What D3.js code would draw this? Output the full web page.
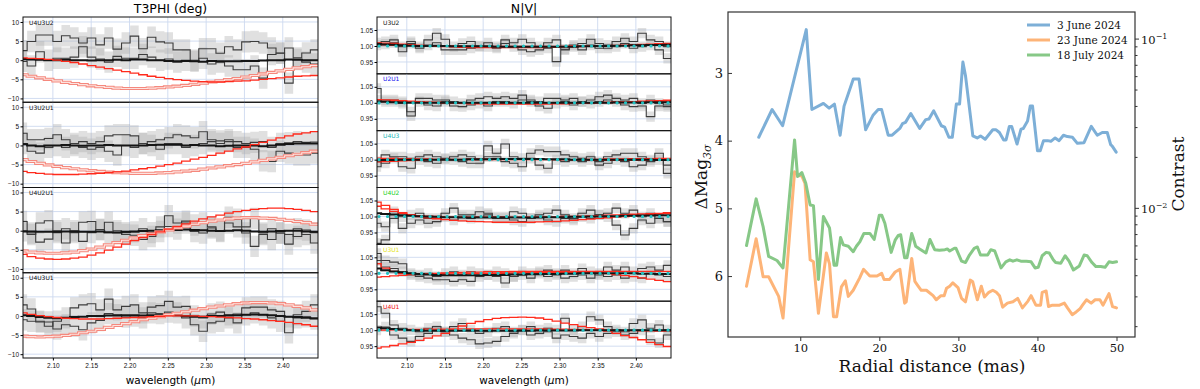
<!DOCTYPE html>
<html>
<head>
<meta charset="utf-8">
<script src="https://cdn.jsdelivr.net/npm/d3@7"></script>
<style>
  body { margin: 0; background: #fff; }
  svg { display: block; font-family: 'DejaVu Sans', sans-serif; }
</style>
</head>
<body>
<div id="chart"></div>
<script>
// ---- wavelength bins (µm) shared by both interferometry panels
const wl = [2.0608, 2.0720, 2.0832, 2.0944, 2.1056, 2.1168, 2.1280, 2.1392, 2.1504, 2.1616, 2.1728, 2.1840,
  2.1952, 2.2064, 2.2176, 2.2288, 2.2400, 2.2512, 2.2624, 2.2736, 2.2848, 2.2960, 2.3072, 2.3184,
  2.3296, 2.3408, 2.3520, 2.3632, 2.3744, 2.3856, 2.3968, 2.4080, 2.4192, 2.4304, 2.4416];
const wlRange = [2.061, 2.446];
const wlTicks = [2.10, 2.15, 2.20, 2.25, 2.30, 2.35, 2.40];

// ---- closure phases (deg)
const triangles = ["U4U3U2", "U3U2U1", "U4U2U1", "U4U3U1"];
const t3Ticks = [-10, -5, 0, 5, 10];
const t3ObsA = [
  [2.5, 4.9, 6.6, 6.6, 4.9, 6.4, 5.8, 4.5, 5.8, 4.0, 5.8, 2.9, 4.5, 6.3, 3.0, 6.0, 4.8, 4.5, 2.7, 2.7, 0.0, 3.0, 3.0, 1.8, 3.5, 2.7, 4.8, 4.9, 4.5, 3.2, 1.9, 3.2, 0.6, 1.9, 2.7],
  [3.2, 1.5, 1.5, 1.8, 2.8, 1.5, 0.5, 1.0, 0.5, 1.0, 2.5, 2.8, 2.8, 2.5, 0.5, 1.0, 1.5, 2.0, 2.8, 2.5, 2.0, 3.6, 1.5, 1.2, 1.5, 1.0, 0.5, 0.8, 1.0, -0.5, 0.5, 0.7, 1.0, 0.8, 0.9],
  [2.4, -1.0, 2.0, 2.6, -0.5, 0.5, -0.5, 2.2, 2.4, 0.3, 2.2, 0.0, -0.5, -0.3, 0.5, -0.5, 1.0, 3.9, 2.0, 2.5, 1.5, 2.0, 1.0, 0.0, 3.5, 3.0, 1.0, 3.2, -0.6, 0.5, -0.6, -3.5, 0.5, -1.0, -3.2],
  [2.9, 1.8, -1.4, -2.7, -1.4, -0.5, 2.1, 2.9, 3.2, 1.6, 4.4, 1.6, 2.5, 2.9, 0.8, 2.3, 2.7, 3.8, 2.3, 2.5, 0.0, -0.5, 0.5, 1.0, 0.3, 0.5, 2.1, 2.3, 2.3, 1.6, 1.2, -4.4, 0.3, 1.2, 2.9]
];
const t3ObsB = [
  [-0.3, -1.5, 2.2, 0.0, 0.5, 0.5, 0.8, 3.5, 0.8, 0.3, -0.5, 1.0, 0.5, 0.5, 1.5, 0.8, 0.0, 0.3, -0.5, 0.0, -0.3, 0.5, -1.0, -0.5, -1.5, -2.5, -2.5, -1.5, -4.7, 1.5, 1.8, -6.0, 0.2, -0.5, -1.0],
  [0.5, -1.5, -2.0, -0.5, 0.0, -0.5, 0.0, -0.5, -1.0, -0.5, -1.5, -2.5, 0.0, -0.5, 0.5, 0.0, -1.0, 0.5, 0.5, -0.5, 0.0, 0.5, 1.0, 0.5, 1.0, -0.5, -0.5, -1.0, -4.0, -4.2, -1.5, -2.0, -2.5, -2.5, -2.0],
  [0.0, -0.6, -3.0, -2.2, 0.0, -3.2, 0.0, -2.8, -0.5, 0.3, -0.5, -0.5, -1.0, -1.2, -2.3, -1.5, -0.2, 1.1, 0.4, 2.0, -0.2, -0.6, 0.7, -0.2, 2.0, 1.0, -0.6, -4.1, -1.0, -2.3, -0.6, -1.0, -1.5, 0.2, -0.5],
  [-1.0, -1.4, -1.6, -1.6, -3.4, -2.3, -2.7, -3.6, -1.8, -1.2, 0.6, 0.3, -0.3, 0.0, -0.5, 0.8, 0.6, 1.0, 0.8, -0.5, -2.3, -4.0, -1.8, -1.4, -0.5, -1.8, 0.3, 0.8, 0.3, -0.5, -1.4, -0.2, -0.5, -0.2, -0.8]
];
const t3Err = [2.8, 2.8, 2.8, 2.8];
const t3Fit = [
  [0.3, 0.2, 0.1, 0.0, 0.0, 0.1, 0.0, 0.0, -0.1, 0.0, 0.0, 0.1, 0.0, 0.2, 0.2, 0.0, 0.0, -0.2, -0.3, -0.2, -0.3, -0.4, -0.2, -0.3, -0.3, -0.3, -0.2, -0.2, -0.1, 0.0, 0.0, 0.2, 0.1, 0.0, 0.0],
  [0.3, 0.0, -0.2, 0.0, 0.0, 0.1, 0.0, -0.1, 0.0, 0.0, 0.1, 0.0, 0.0, 0.0, 0.0, 0.1, 0.2, 0.2, 0.2, 0.0, 0.1, 0.0, 0.0, -0.2, -0.1, 0.0, 0.0, 0.0, -0.2, 0.0, 0.2, 0.4, 0.5, 0.5, 0.5],
  [-0.2, -0.2, -0.3, -0.3, -0.3, -0.2, -0.2, -0.3, -0.3, -0.2, -0.4, -0.5, -0.3, -0.2, -0.1, 0.0, 0.1, 0.2, 0.2, 0.3, 0.2, 0.1, 0.0, -0.1, 0.0, 0.1, 0.0, -0.2, -0.3, -0.2, -0.1, 0.0, 0.0, -0.2, -0.3],
  [0.2, 0.0, -0.3, -0.5, -0.6, -0.5, -0.3, -0.2, 0.0, 0.0, 0.1, 0.1, 0.2, 0.2, 0.1, 0.2, 0.2, 0.3, 0.2, 0.0, -0.2, -0.2, 0.0, 0.0, 0.1, 0.2, 0.3, 0.4, 0.3, 0.2, 0.0, -0.2, -0.3, -0.5, -0.6]
];
const t3ModelA = [
  [0.6, 0.5, 0.4, 0.2, 0.0, -0.3, -0.6, -1.0, -1.4, -1.8, -2.2, -2.6, -3.0, -3.4, -3.8, -4.2, -4.5, -4.8, -5.1, -5.3, -5.5, -5.6, -5.7, -5.7, -5.6, -5.5, -5.4, -5.2, -5.0, -4.8, -4.6, -4.4, -4.2, -4.1, -4.0],
  [-6.8, -7.1, -7.3, -7.5, -7.6, -7.6, -7.6, -7.5, -7.4, -7.3, -7.1, -6.9, -6.7, -6.4, -6.1, -5.8, -5.4, -5.0, -4.6, -4.1, -3.6, -3.1, -2.6, -2.0, -1.5, -0.9, -0.4, 0.2, 0.8, 1.4, 2.0, 2.5, 3.0, 3.3, 3.6],
  [-6.2, -6.8, -7.2, -7.4, -7.5, -7.4, -7.2, -6.9, -6.4, -5.8, -5.1, -4.3, -3.5, -2.6, -1.8, -1.0, -0.3, 0.4, 1.1, 1.8, 2.5, 3.1, 3.6, 4.1, 4.6, 5.0, 5.3, 5.6, 5.8, 5.9, 5.9, 5.8, 5.6, 5.3, 5.0],
  [0.8, 0.4, 0.1, -0.2, -0.4, -0.6, -0.7, -0.8, -0.8, -0.8, -0.7, -0.6, -0.5, -0.4, -0.3, -0.2, -0.1, 0.0, 0.0, 0.0, 0.0, -0.1, -0.2, -0.3, -0.4, -0.5, -0.7, -0.8, -1.0, -1.2, -1.4, -1.7, -2.0, -2.3, -2.7]
];
const t3ModelB = [
  [-3.8, -4.2, -4.6, -5.0, -5.4, -5.8, -6.1, -6.4, -6.7, -6.9, -7.1, -7.3, -7.4, -7.4, -7.4, -7.3, -7.2, -7.0, -6.8, -6.6, -6.3, -6.0, -5.7, -5.4, -5.1, -4.8, -4.4, -4.0, -3.6, -3.2, -2.8, -2.4, -2.0, -1.7, -1.4],
  [-3.7, -4.2, -4.7, -5.1, -5.5, -5.8, -6.1, -6.4, -6.6, -6.8, -7.0, -7.1, -7.2, -7.3, -7.3, -7.3, -7.2, -7.1, -6.9, -6.7, -6.5, -6.2, -5.9, -5.6, -5.3, -5.0, -4.7, -4.3, -3.9, -3.5, -3.1, -2.7, -2.3, -1.9, -1.5],
  [-5.3, -5.6, -5.8, -5.9, -5.9, -5.8, -5.6, -5.2, -4.8, -4.3, -3.7, -3.1, -2.5, -1.9, -1.3, -0.8, -0.3, 0.2, 0.7, 1.2, 1.7, 2.1, 2.5, 2.8, 3.1, 3.3, 3.4, 3.4, 3.3, 3.2, 3.0, 2.7, 2.4, 2.1, 1.7],
  [-5.3, -5.4, -5.5, -5.4, -5.3, -5.1, -4.8, -4.4, -4.0, -3.5, -3.0, -2.5, -2.0, -1.5, -1.0, -0.6, -0.2, 0.3, 0.7, 1.1, 1.5, 1.9, 2.3, 2.6, 2.9, 3.2, 3.4, 3.5, 3.5, 3.4, 3.2, 2.9, 2.5, 2.1, 1.6]
];

// ---- normalised visibility amplitudes
const baselines = ["U3U2", "U2U1", "U4U3", "U4U2", "U3U1", "U4U1"];
const baselineColors = ["#111111", "#1010f0", "#19b5b5", "#22d022", "#e4e41a", "#f01010"];
const nvTicks = [0.95, 1.00, 1.05];
const nvRef = 1.0;
const nvObsA = [
  [1.010, 1.014, 1.019, 0.982, 1.014, 0.993, 1.019, 1.040, 1.021, 0.998, 1.008, 1.014, 1.000, 1.010, 0.998, 1.019, 1.010, 1.021, 1.010, 0.998, 1.010, 1.019, 0.990, 1.003, 1.008, 1.021, 1.008, 0.993, 1.014, 1.024, 1.014, 1.040, 1.019, 1.014, 0.998],
  [1.045, 1.009, 1.009, 1.004, 0.972, 1.014, 1.014, 1.009, 1.009, 1.004, 0.998, 1.009, 1.014, 1.019, 1.014, 1.019, 1.014, 1.024, 1.009, 1.004, 1.014, 1.014, 1.009, 1.014, 1.004, 1.009, 1.019, 1.024, 1.014, 1.009, 1.014, 0.998, 1.009, 0.998, 0.993],
  [0.978, 1.015, 1.009, 1.009, 1.004, 1.009, 1.015, 1.009, 1.001, 1.009, 1.015, 1.009, 0.999, 1.043, 1.020, 1.049, 1.009, 1.004, 1.020, 1.030, 1.025, 1.025, 1.015, 1.009, 1.004, 1.009, 0.994, 1.009, 1.015, 1.020, 1.020, 1.009, 0.999, 1.020, 0.983],
  [0.916, 0.927, 1.015, 0.963, 1.005, 1.010, 0.994, 0.994, 1.010, 1.026, 1.005, 1.005, 1.015, 1.010, 0.999, 0.994, 1.015, 1.010, 0.994, 1.005, 1.010, 1.020, 1.005, 0.994, 1.010, 1.020, 1.005, 1.010, 1.026, 1.010, 1.020, 0.999, 1.010, 0.994, 0.984],
  [1.062, 1.040, 1.035, 1.030, 1.000, 0.995, 1.000, 0.990, 1.000, 1.005, 0.995, 1.005, 1.000, 0.995, 1.005, 1.000, 0.990, 1.005, 1.000, 1.005, 1.010, 1.000, 1.010, 1.000, 1.015, 1.005, 0.995, 1.020, 1.010, 1.020, 1.005, 1.015, 1.020, 1.010, 1.025],
  [1.073, 1.053, 1.016, 1.006, 1.001, 0.995, 1.006, 1.011, 0.995, 1.011, 1.021, 1.001, 0.990, 0.995, 1.006, 1.011, 0.995, 1.001, 1.011, 1.001, 1.006, 1.001, 1.037, 1.001, 1.011, 1.042, 1.032, 1.011, 1.001, 0.995, 1.021, 1.032, 1.006, 1.016, 1.001]
];
const nvObsB = [
  [1.003, 1.006, 1.010, 0.998, 1.008, 0.998, 1.003, 1.010, 0.988, 0.988, 0.988, 0.993, 0.998, 0.998, 0.993, 1.008, 0.998, 0.988, 0.982, 0.988, 0.993, 0.951, 0.988, 0.998, 0.988, 1.003, 0.993, 1.003, 0.998, 1.008, 0.993, 0.998, 1.003, 0.988, 0.961],
  [1.009, 1.004, 1.004, 0.998, 0.959, 1.004, 0.993, 0.990, 1.004, 0.990, 0.988, 0.993, 0.998, 0.990, 1.004, 1.004, 0.998, 1.009, 1.004, 0.990, 0.983, 0.998, 1.004, 0.993, 1.004, 0.998, 1.004, 1.009, 1.004, 0.993, 0.988, 0.990, 0.957, 0.990, 0.988],
  [0.994, 0.989, 1.004, 0.978, 0.973, 0.999, 0.994, 0.989, 1.004, 0.999, 0.994, 0.989, 0.989, 1.009, 1.009, 0.994, 0.989, 0.978, 1.004, 0.983, 0.973, 0.999, 0.994, 0.999, 0.994, 0.999, 0.983, 0.989, 0.999, 0.994, 0.978, 0.983, 0.994, 0.999, 0.957],
  [0.979, 0.968, 0.994, 0.999, 0.979, 0.989, 0.979, 0.984, 0.999, 0.989, 0.999, 0.994, 0.999, 1.005, 0.994, 0.999, 0.989, 0.984, 0.994, 0.999, 0.989, 0.984, 0.994, 0.989, 0.999, 0.994, 1.005, 0.999, 0.973, 0.942, 0.963, 0.989, 0.979, 0.994, 0.984],
  [1.040, 1.020, 1.015, 1.005, 0.995, 0.990, 0.985, 0.980, 0.980, 0.975, 0.980, 0.975, 0.990, 0.995, 0.990, 0.970, 0.990, 0.995, 0.985, 1.000, 0.990, 0.995, 0.985, 0.990, 0.995, 0.985, 1.000, 0.990, 0.995, 0.985, 0.990, 0.985, 1.000, 0.995, 0.990],
  [1.000, 1.010, 0.985, 0.975, 0.965, 0.980, 0.990, 1.000, 0.995, 0.985, 0.975, 0.970, 0.957, 0.960, 0.965, 0.980, 0.990, 1.000, 0.985, 0.990, 0.995, 0.975, 0.985, 0.980, 0.975, 0.990, 0.980, 0.990, 0.995, 0.985, 0.990, 1.000, 0.970, 0.960, 0.985]
];
const nvErr = [0.016, 0.016, 0.016, 0.016, 0.016, 0.016];
const nvFit = [
  [1.006, 1.005, 1.004, 1.002, 1.001, 1.000, 1.000, 1.001, 1.000, 0.999, 0.999, 0.999, 0.999, 0.999, 0.998, 0.998, 0.998, 0.998, 0.998, 0.998, 0.998, 0.998, 0.998, 0.998, 0.999, 0.999, 1.000, 1.000, 1.001, 1.001, 1.002, 1.002, 1.003, 1.003, 1.004],
  [1.004, 1.003, 1.002, 1.001, 1.000, 1.000, 1.000, 1.000, 1.000, 1.000, 1.000, 1.000, 1.000, 1.000, 1.000, 1.000, 1.000, 1.000, 1.000, 1.000, 1.000, 1.000, 1.000, 1.000, 1.000, 1.000, 1.000, 1.000, 1.001, 1.001, 1.001, 1.001, 1.002, 1.002, 1.002],
  [0.998, 0.999, 0.999, 1.000, 1.000, 1.000, 1.000, 1.000, 1.000, 1.000, 1.000, 1.001, 1.001, 1.001, 1.002, 1.002, 1.002, 1.002, 1.002, 1.002, 1.001, 1.001, 1.001, 1.000, 1.000, 1.000, 1.000, 1.000, 1.000, 1.000, 1.000, 1.000, 1.000, 0.999, 0.999],
  [1.010, 1.008, 1.006, 1.004, 1.002, 1.001, 1.000, 0.999, 0.998, 0.998, 0.997, 0.997, 0.997, 0.997, 0.997, 0.997, 0.997, 0.997, 0.997, 0.997, 0.998, 0.998, 0.998, 0.999, 0.999, 1.000, 1.000, 1.001, 1.001, 1.002, 1.002, 1.003, 1.003, 1.004, 1.004],
  [1.015, 1.010, 1.006, 1.003, 1.000, 0.998, 0.996, 0.995, 0.994, 0.994, 0.994, 0.994, 0.994, 0.995, 0.995, 0.995, 0.996, 0.996, 0.997, 0.997, 0.998, 0.998, 0.999, 0.999, 1.000, 1.000, 1.000, 1.000, 1.000, 1.000, 1.000, 0.999, 0.999, 0.998, 0.998],
  [1.008, 1.006, 1.004, 1.002, 1.000, 0.999, 0.998, 0.998, 0.998, 0.998, 0.998, 0.998, 0.998, 0.998, 0.998, 0.998, 0.998, 0.998, 0.998, 0.999, 0.999, 0.999, 0.999, 0.999, 1.000, 1.000, 1.000, 1.000, 1.000, 1.000, 1.000, 1.000, 1.000, 1.000, 1.000]
];
const nvModelA = [
  [1.010, 1.009, 1.008, 1.006, 1.004, 1.002, 1.000, 0.999, 0.998, 0.997, 0.996, 0.995, 0.995, 0.995, 0.995, 0.995, 0.995, 0.995, 0.995, 0.995, 0.996, 0.996, 0.997, 0.997, 0.998, 0.999, 1.000, 1.001, 1.002, 1.003, 1.004, 1.005, 1.006, 1.007, 1.008],
  [1.010, 1.009, 1.008, 1.007, 1.005, 1.004, 1.002, 1.001, 1.000, 0.999, 0.998, 0.997, 0.997, 0.996, 0.996, 0.996, 0.996, 0.996, 0.996, 0.996, 0.996, 0.997, 0.997, 0.998, 0.998, 0.999, 1.000, 1.001, 1.002, 1.003, 1.004, 1.005, 1.006, 1.007, 1.008],
  [0.993, 0.994, 0.995, 0.996, 0.997, 0.998, 0.999, 1.000, 1.000, 1.001, 1.001, 1.002, 1.002, 1.002, 1.002, 1.002, 1.002, 1.002, 1.002, 1.001, 1.001, 1.001, 1.000, 1.000, 0.999, 0.999, 0.998, 0.998, 0.998, 0.998, 0.998, 0.999, 0.999, 1.000, 1.001],
  [1.045, 1.035, 1.022, 1.012, 1.005, 1.000, 0.996, 0.993, 0.990, 0.988, 0.986, 0.985, 0.984, 0.983, 0.982, 0.982, 0.982, 0.982, 0.982, 0.983, 0.984, 0.985, 0.986, 0.988, 0.990, 0.992, 0.994, 0.996, 0.998, 1.000, 1.002, 1.004, 1.006, 1.008, 1.010],
  [1.030, 1.016, 1.006, 1.000, 0.998, 0.997, 0.997, 0.997, 0.997, 0.998, 0.998, 0.999, 0.999, 1.000, 1.000, 1.001, 1.001, 1.002, 1.002, 1.003, 1.003, 1.003, 1.003, 1.003, 1.003, 1.002, 1.001, 0.999, 0.996, 0.993, 0.990, 0.986, 0.982, 0.978, 0.974],
  [0.944, 0.948, 0.952, 0.957, 0.962, 0.968, 0.975, 0.982, 0.990, 1.001, 1.013, 1.021, 1.027, 1.033, 1.037, 1.039, 1.040, 1.041, 1.040, 1.038, 1.034, 1.028, 1.022, 1.017, 1.012, 1.008, 1.004, 0.997, 0.990, 0.983, 0.977, 0.970, 0.962, 0.955, 0.949]
];
const nvModelB = [
  [1.004, 1.004, 1.003, 1.003, 1.002, 1.002, 1.001, 1.001, 1.000, 1.000, 1.000, 0.999, 0.999, 0.999, 0.999, 0.999, 0.999, 0.999, 0.999, 0.999, 0.999, 0.999, 0.999, 1.000, 1.000, 1.000, 1.000, 1.001, 1.001, 1.001, 1.002, 1.002, 1.002, 1.003, 1.003],
  [1.004, 1.004, 1.003, 1.003, 1.002, 1.002, 1.001, 1.001, 1.000, 1.000, 1.000, 0.999, 0.999, 0.999, 0.999, 0.999, 0.999, 0.999, 0.999, 0.999, 0.999, 0.999, 0.999, 1.000, 1.000, 1.000, 1.000, 1.001, 1.001, 1.001, 1.002, 1.002, 1.002, 1.003, 1.003],
  [1.005, 1.004, 1.004, 1.003, 1.003, 1.002, 1.002, 1.001, 1.001, 1.000, 1.000, 1.000, 1.000, 1.000, 1.000, 1.000, 1.000, 1.000, 1.000, 1.000, 1.000, 1.000, 1.000, 1.000, 1.001, 1.001, 1.001, 1.002, 1.002, 1.002, 1.003, 1.003, 1.003, 1.004, 1.004],
  [1.032, 1.024, 1.016, 1.010, 1.006, 1.003, 1.001, 1.000, 0.999, 0.998, 0.998, 0.998, 0.998, 0.998, 0.998, 0.998, 0.998, 0.998, 0.998, 0.998, 0.999, 0.999, 1.000, 1.000, 1.001, 1.002, 1.003, 1.004, 1.005, 1.006, 1.007, 1.008, 1.009, 1.010, 1.012],
  [0.988, 0.990, 0.992, 0.994, 0.996, 0.998, 0.999, 1.000, 1.001, 1.002, 1.003, 1.004, 1.004, 1.005, 1.005, 1.005, 1.006, 1.006, 1.006, 1.006, 1.006, 1.006, 1.006, 1.006, 1.006, 1.006, 1.006, 1.006, 1.006, 1.006, 1.006, 1.006, 1.006, 1.006, 1.006],
  [1.000, 1.000, 1.001, 1.001, 1.002, 1.002, 1.003, 1.003, 1.003, 1.004, 1.004, 1.004, 1.004, 1.004, 1.004, 1.004, 1.004, 1.004, 1.004, 1.004, 1.003, 1.003, 1.003, 1.002, 1.002, 1.001, 1.001, 1.000, 1.000, 0.999, 0.999, 0.998, 0.998, 0.997, 0.997]
];

// ---- detection limits: [radial distance (mas), ΔMag 3σ]
const epochs = ["3 June 2024", "23 June 2024", "18 July 2024"];
const limJun03 = [[4.75, 3.95], [6.44, 3.54], [7.77, 3.78], [10.76, 2.36], [11.47, 3.54], [12.93, 3.45], [13.65, 3.52], [14.32, 3.46],
  [15.04, 3.92], [15.54, 3.49], [16.71, 3.09], [17.43, 3.09], [18.27, 3.84], [19.23, 3.62], [19.86, 3.54], [20.29, 3.54],
  [21.12, 3.92], [21.62, 3.92], [22.59, 3.82], [22.93, 3.75], [23.31, 3.73], [23.98, 3.60], [25.11, 3.82], [25.87, 3.69],
  [26.28, 3.68], [26.88, 3.56], [27.85, 3.78], [28.26, 3.80], [28.80, 3.95], [29.23, 3.95], [29.74, 3.46], [30.15, 3.46],
  [30.57, 2.84], [30.91, 3.05], [31.83, 3.93], [32.38, 3.96], [32.80, 3.93], [33.39, 3.98], [34.35, 3.84], [34.77, 3.84],
  [35.19, 3.88], [35.73, 3.99], [36.03, 3.99], [36.45, 3.79], [36.74, 3.79], [37.42, 4.05], [37.92, 3.83], [38.21, 3.82],
  [38.75, 3.71], [39.09, 3.49], [39.38, 3.49], [40.01, 4.15], [40.35, 4.15], [40.77, 4.00], [41.27, 4.00], [41.70, 4.01],
  [42.24, 3.96], [42.74, 4.00], [43.29, 3.92], [43.79, 3.94], [44.42, 3.95], [45.05, 4.04], [45.89, 4.03], [46.81, 3.79],
  [47.57, 3.92], [48.20, 3.88], [48.83, 3.88], [49.26, 4.06], [49.46, 4.08], [49.96, 4.17]];
const limJun23 = [[3.2, 6.15], [4.42, 5.45], [5.3, 6.01], [6.0, 6.01], [7.27, 6.30], [7.82, 6.62], [9.28, 4.46], [9.8, 4.52],
  [10.2, 4.52], [10.6, 4.63], [11.25, 5.76], [11.67, 5.79], [12.3, 6.55], [13.3, 5.66], [13.7, 5.82], [14.2, 6.60],
  [14.6, 6.60], [15.2, 6.16], [15.7, 6.07], [16.08, 6.30], [16.7, 6.21], [17.5, 6.03], [18.0, 5.90], [18.8, 6.00],
  [19.7, 6.00], [20.3, 5.96], [20.6, 6.05], [21.3, 6.05], [22.0, 5.94], [22.6, 5.90], [23.2, 6.40], [23.4, 6.38],
  [24.1, 5.74], [24.5, 6.08], [24.8, 6.13], [25.3, 6.21], [25.95, 6.21], [26.8, 6.29], [27.2, 6.35], [27.8, 6.29],
  [28.2, 6.29], [28.5, 6.18], [28.9, 6.15], [29.3, 6.10], [29.95, 6.17], [30.4, 6.33], [30.9, 6.38], [31.5, 6.06],
  [31.8, 6.08], [32.4, 6.35], [32.9, 6.15], [33.3, 6.31], [33.85, 6.24], [34.35, 6.21], [34.8, 6.24], [35.2, 6.29],
  [35.6, 6.46], [36.2, 6.40], [36.9, 6.38], [37.5, 6.33], [38.1, 6.47], [38.8, 6.37], [39.2, 6.29], [39.8, 6.43],
  [40.4, 6.43], [40.6, 6.24], [41.1, 6.22], [41.4, 6.45], [41.9, 6.43], [42.8, 6.43], [43.4, 6.40], [43.8, 6.47],
  [44.4, 6.57], [44.9, 6.53], [45.4, 6.48], [45.7, 6.43], [46.2, 6.35], [46.8, 6.40], [47.3, 6.35], [47.9, 6.35],
  [48.3, 6.43], [49.05, 6.26], [49.5, 6.45], [50.0, 6.47]];
const limJul18 = [[3.2, 5.55], [4.42, 4.86], [5.3, 5.27], [6.0, 5.71], [7.06, 5.77], [7.82, 5.88], [9.28, 3.99], [9.66, 4.53],
  [10.2, 4.47], [10.7, 4.63], [11.25, 4.95], [11.67, 4.96], [12.3, 6.05], [12.93, 5.12], [13.7, 5.29], [14.28, 5.84],
  [14.6, 5.84], [15.1, 5.43], [15.45, 5.54], [16.08, 5.56], [16.7, 5.64], [17.1, 5.56], [17.55, 5.49], [18.05, 5.37],
  [18.8, 5.37], [19.35, 5.46], [20.0, 5.10], [20.3, 5.10], [20.7, 5.22], [21.5, 5.65], [22.0, 5.47], [22.4, 5.40],
  [22.7, 5.39], [23.2, 5.73], [23.5, 5.73], [24.1, 5.37], [24.3, 5.44], [24.6, 5.56], [25.1, 5.60], [25.9, 5.66],
  [26.4, 5.46], [27.0, 5.61], [27.6, 5.62], [28.3, 5.61], [28.6, 5.60], [28.9, 5.63], [29.5, 5.59], [29.7, 5.59],
  [30.4, 5.78], [30.9, 5.80], [31.4, 5.69], [32.0, 5.59], [32.4, 5.57], [32.8, 5.69], [33.3, 5.69], [33.7, 5.69],
  [34.1, 5.61], [34.6, 5.63], [35.4, 5.88], [36.0, 5.79], [36.5, 5.76], [36.9, 5.78], [37.4, 5.76], [37.9, 5.78],
  [38.6, 5.78], [39.2, 5.79], [39.7, 5.88], [40.1, 5.87], [40.6, 5.70], [41.1, 5.65], [41.5, 5.66], [42.0, 5.76],
  [42.3, 5.80], [42.95, 5.81], [43.5, 5.70], [44.0, 5.78], [44.55, 5.91], [45.3, 5.85], [45.9, 5.69], [46.3, 5.70],
  [46.9, 5.80], [47.4, 5.86], [48.0, 5.86], [48.55, 5.87], [49.05, 5.79], [49.5, 5.80], [50.0, 5.79]];
const sepTicks = [10, 20, 30, 40, 50];
const magTicks = [3, 4, 5, 6];
const epochColors = ["#7dafd7", "#fdb478", "#87c887"];

// ---------------------------------------------------------------
const W = 1200, H = 389;
const svg = d3.select("#chart").append("svg").attr("width", W).attr("height", H);
const defs = svg.append("defs");
const gridColor = "#cdd9ef";
const halfBin = (wl[1] - wl[0]) / 2;

// turn per-bin values into a staircase
const steps = vals => vals.flatMap((v, i) => [[wl[i] - halfBin, v], [wl[i] + halfBin, v]]);

function stackPanel(cfg) {
  const x = d3.scaleLinear().domain(wlRange).range([cfg.left, cfg.right]);
  const rowH = (cfg.bottom - cfg.top) / cfg.names.length;

  cfg.names.forEach((name, i) => {
    const top = cfg.top + i * rowH;
    const y = d3.scaleLinear().domain(cfg.yDomain).range([top + rowH, top]);
    const g = svg.append("g");
    const clipId = `${cfg.id}-clip-${i}`;
    defs.append("clipPath").attr("id", clipId).append("rect")
      .attr("x", cfg.left).attr("y", top)
      .attr("width", cfg.right - cfg.left).attr("height", rowH);

    // grid
    g.append("g").selectAll("line").data(wlTicks).join("line")
      .attr("x1", d => x(d)).attr("x2", d => x(d))
      .attr("y1", top).attr("y2", top + rowH)
      .attr("stroke", gridColor).attr("stroke-width", 0.9);
    g.append("g").selectAll("line").data(cfg.yTicks).join("line")
      .attr("x1", cfg.left).attr("x2", cfg.right)
      .attr("y1", d => y(d)).attr("y2", d => y(d))
      .attr("stroke", gridColor).attr("stroke-width", 0.9);

    const plot = g.append("g").attr("clip-path", `url(#${clipId})`);
    const line = d3.line().x(d => x(d[0])).y(d => y(d[1]));
    const band = d3.area().x(d => x(d[0]))
      .y0(d => y(d[1] - cfg.err[i])).y1(d => y(d[1] + cfg.err[i]));

    const obs = [cfg.obsA[i], cfg.obsB[i]];
    obs.forEach(s => plot.append("path").attr("d", band(steps(s)))
      .attr("fill", "#a8a8a8").attr("fill-opacity", 0.36));
    obs.forEach(s => plot.append("path").attr("d", line(steps(s)))
      .attr("fill", "none").attr("stroke", "#3c3c3c").attr("stroke-width", 1.1));

    const drawFit = () => plot.append("path").attr("d", line(steps(cfg.fit[i])))
      .attr("fill", "none").attr("stroke", "#151515").attr("stroke-width", 2);
    const drawModels = () => cfg.models.forEach(m => {
      const d = line(steps(m.data[i]));
      if (m.double) {
        plot.append("path").attr("d", d).attr("fill", "none")
          .attr("stroke", "#f5887d").attr("stroke-width", 3.2);
        plot.append("path").attr("d", d).attr("fill", "none")
          .attr("stroke", "#fde3df").attr("stroke-width", 1.1);
      } else {
        plot.append("path").attr("d", d).attr("fill", "none")
          .attr("stroke", "#ff2a1c").attr("stroke-width", 1.3);
      }
    });
    if (cfg.fitOnTop) { drawModels(); drawFit(); } else { drawFit(); drawModels(); }

    if (cfg.ref !== undefined) {
      plot.append("line")
        .attr("x1", x(wlRange[0]) + 2).attr("x2", x(wlRange[1]))
        .attr("y1", y(cfg.ref)).attr("y2", y(cfg.ref))
        .attr("stroke", "#22c2c2").attr("stroke-width", 3.2)
        .attr("stroke-linecap", "round").attr("stroke-dasharray", "0.1 8.4");
    }

    // frame
    g.append("rect").attr("x", cfg.left).attr("y", top)
      .attr("width", cfg.right - cfg.left).attr("height", rowH)
      .attr("fill", "none").attr("stroke", "#111").attr("stroke-width", 1);

    // y axis
    const ya = g.append("g").attr("transform", `translate(${cfg.left},0)`)
      .call(d3.axisLeft(y).tickValues(cfg.yTicks).tickFormat(cfg.fmt).tickSize(2.5).tickPadding(1.5));
    ya.select(".domain").remove();
    ya.selectAll("text").style("font-size", "6.5px").attr("fill", "#111");

    g.append("text").attr("x", cfg.left + 6).attr("y", top + 7.5)
      .style("font-size", "6px").attr("fill", cfg.nameColors[i]).text(name);

    if (i === cfg.names.length - 1) {
      const xa = g.append("g").attr("transform", `translate(0,${top + rowH})`)
        .call(d3.axisBottom(x).tickValues(wlTicks).tickFormat(d3.format(".2f")).tickSize(2.5).tickPadding(2.5));
      xa.select(".domain").remove();
      xa.selectAll("text").style("font-size", "6.5px").attr("fill", "#111");
    }
  });

  const mid = (cfg.left + cfg.right) / 2;
  svg.append("text").attr("x", mid).attr("y", 12.5).attr("text-anchor", "middle")
    .style("font-size", "12.5px").text(cfg.title);
  const xl = svg.append("text").attr("x", mid).attr("y", 384).attr("text-anchor", "middle")
    .style("font-size", "10.5px");
  xl.append("tspan").text("wavelength (");
  xl.append("tspan").style("font-style", "italic").text("μ");
  xl.append("tspan").text("m)");
}

stackPanel({
  id: "t3", title: "T3PHI (deg)", left: 23, right: 318, top: 17, bottom: 358,
  names: triangles, nameColors: triangles.map(() => "#111"),
  yDomain: [-11, 11.3], yTicks: t3Ticks, fmt: d3.format("d"),
  obsA: t3ObsA, obsB: t3ObsB, err: t3Err, fit: t3Fit, fitOnTop: false,
  models: [{ data: t3ModelB, double: true }, { data: t3ModelA, double: false }]
});

stackPanel({
  id: "nv", title: "N|V|", left: 377, right: 671, top: 17, bottom: 358,
  names: baselines, nameColors: baselineColors,
  yDomain: [0.913, 1.0906], yTicks: nvTicks, fmt: d3.format(".2f"),
  obsA: nvObsA, obsB: nvObsB, err: nvErr, fit: nvFit, fitOnTop: true, ref: nvRef,
  models: [{ data: nvModelB, double: false }, { data: nvModelA, double: false }]
});

// ---- detection limit panel
(function () {
  const serif = "'DejaVu Serif', serif";
  const L = 728, R = 1135, T = 12, B = 337;
  const x = d3.scaleLinear().domain([0.86, 52.34]).range([L, R]);
  const y = d3.scaleLinear().domain([2.1, 6.9]).range([T, B]);
  const contrast = d3.scaleLog()
    .domain(y.domain().map(m => Math.pow(10, -m / 2.5))).range([T, B]);

  const g = svg.append("g").style("font-family", serif);
  const line = d3.line().x(d => x(d[0])).y(d => y(d[1]));
  [limJun03, limJun23, limJul18].forEach((s, i) => {
    g.append("path").attr("d", line(s)).attr("fill", "none")
      .attr("stroke", epochColors[i]).attr("stroke-width", 3)
      .attr("stroke-linejoin", "round").attr("stroke-linecap", "round");
  });

  g.append("rect").attr("x", L).attr("y", T).attr("width", R - L).attr("height", B - T)
    .attr("fill", "none").attr("stroke", "#333").attr("stroke-width", 1.2);

  const xa = g.append("g").attr("transform", `translate(0,${B})`)
    .call(d3.axisBottom(x).tickValues(sepTicks).tickSize(4).tickPadding(3));
  xa.select(".domain").remove();
  xa.selectAll("text").style("font-size", "11.5px").style("font-family", serif).attr("fill", "#111");
  xa.selectAll("line").attr("stroke", "#333");

  const ya = g.append("g").attr("transform", `translate(${L},0)`)
    .call(d3.axisLeft(y).tickValues(magTicks).tickFormat(d3.format("d")).tickSize(-4).tickPadding(5));
  ya.select(".domain").remove();
  ya.selectAll("text").style("font-size", "13px").style("font-family", serif).attr("fill", "#111");
  ya.selectAll("line").attr("stroke", "#333");

  // right log axis
  const cTicks = contrast.ticks();
  const isMajor = v => Math.abs(Math.log10(v) - Math.round(Math.log10(v))) < 1e-9;
  g.append("g").selectAll("line").data(cTicks).join("line")
    .attr("x1", R).attr("x2", d => R + (isMajor(d) ? 4 : 2.5))
    .attr("y1", d => contrast(d)).attr("y2", d => contrast(d))
    .attr("stroke", "#333").attr("stroke-width", 1);
  const lab = g.append("g").selectAll("text").data(cTicks.filter(isMajor)).join("text")
    .attr("x", R + 6).attr("y", d => contrast(d) + 4.5)
    .style("font-size", "11.5px").attr("fill", "#111");
  lab.append("tspan").text("10");
  lab.append("tspan").attr("dy", -5).style("font-size", "8px")
    .text(d => "\u2212" + Math.round(-Math.log10(d)));

  // axis titles
  g.append("text").attr("x", (L + R) / 2 + 0.5).attr("y", 372).attr("text-anchor", "middle")
    .style("font-size", "17px").attr("fill", "#111").text("Radial distance (mas)");
  const yl = g.append("text").attr("transform", "translate(707,177) rotate(-90)")
    .attr("text-anchor", "middle").style("font-size", "17px").attr("fill", "#111");
  yl.append("tspan").text("\u0394Mag");
  yl.append("tspan").attr("dy", 3.5).style("font-size", "11px").style("font-style", "italic").text("3\u03c3");
  g.append("text").attr("transform", "translate(1184,174) rotate(-90)")
    .attr("text-anchor", "middle").style("font-size", "17px").attr("fill", "#111").text("Contrast");

  // legend
  const lg = g.append("g");
  epochs.forEach((e, i) => {
    const ly = 25 + i * 15;
    lg.append("line").attr("x1", 1027).attr("x2", 1050).attr("y1", ly).attr("y2", ly)
      .attr("stroke", epochColors[i]).attr("stroke-width", 3);
    lg.append("text").attr("x", 1057).attr("y", ly + 3.8)
      .style("font-size", "10.5px").attr("fill", "#111").text(e);
  });
})();
</script>
</body>
</html>
